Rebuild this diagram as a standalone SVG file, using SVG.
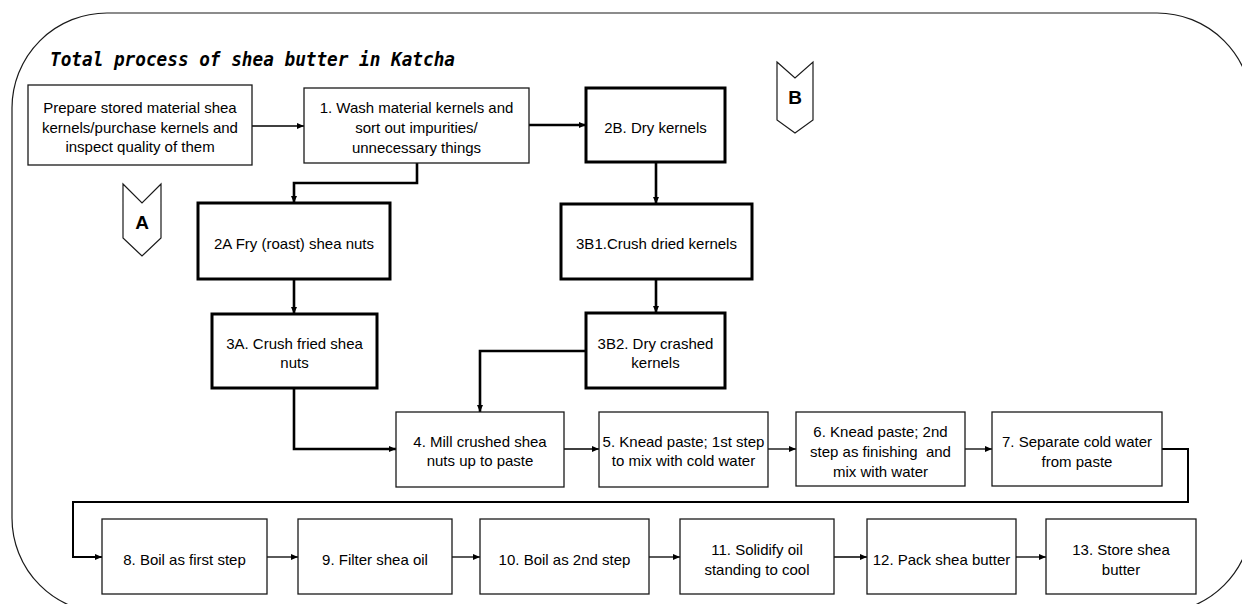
<svg xmlns="http://www.w3.org/2000/svg" width="1242" height="604" viewBox="0 0 1242 604">
  <style>
    .box { fill: #ffffff; stroke: #1a1a1a; stroke-width: 1.3; }
    .bold { fill: #ffffff; stroke: #000000; stroke-width: 3; }
    .lbl { font-family: "Liberation Sans", Arial, sans-serif; font-size: 15px; fill: #000000; text-anchor: middle; }
    .thin { fill: none; stroke: #000000; stroke-width: 1.3; marker-end: url(#arrow); }
    .thick { fill: none; stroke: #000000; stroke-width: 2.6; marker-end: url(#arrow); }
    .mid { fill: none; stroke: #000000; stroke-width: 2; marker-end: url(#arrow); }
    .chev { fill: #ffffff; stroke: #1a1a1a; stroke-width: 1.2; }
    .chevtxt { font-family: "Liberation Sans", Arial, sans-serif; font-size: 19px; font-weight: bold; fill: #000000; text-anchor: middle; }
    .title { font-family: "DejaVu Sans Mono", "Liberation Mono", monospace; font-size: 19px; font-weight: bold; font-style: italic; fill: #000000; }
  </style>
  <defs>
    <marker id="arrow" markerUnits="userSpaceOnUse" markerWidth="8" markerHeight="8" refX="7" refY="4" orient="auto">
      <path d="M0,1 L7,4 L0,7 Z" fill="#000000"/>
    </marker>
  </defs>

  <rect width="1242" height="604" fill="#ffffff"/>

  <!-- outer rounded frame -->
  <rect x="12" y="13" width="1240" height="600" rx="95" ry="95" fill="none" stroke="#1a1a1a" stroke-width="1.2"/>

  <text class="title" x="50" y="66" textLength="405" lengthAdjust="spacingAndGlyphs">Total process of shea butter in Katcha</text>

  <!-- route markers -->
  <g id="marker-a">
    <polygon class="chev" points="123,184 142,203 161,184 161,238 142,256 123,238"/>
    <text class="chevtxt" x="142" y="229">A</text>
  </g>
  <g id="marker-b">
    <polygon class="chev" points="777,62 795,78 813,62 813,120 795,133 777,120"/>
    <text class="chevtxt" x="795" y="104">B</text>
  </g>

  <!-- connectors -->
  <g id="connectors">
    <path class="thin" d="M252,126 H304"/>
    <path class="thick" d="M529,125 H586"/>
    <path class="thick" d="M417,163 V183 H294 V203"/>
    <path class="thick" d="M656,162 V204"/>
    <path class="thick" d="M294,279 V314"/>
    <path class="thick" d="M656,279 V313"/>
    <path class="thick" d="M294,388 V449 H396"/>
    <path class="thick" d="M586,351 H480 V412"/>
    <path class="thin" d="M564,449 H599"/>
    <path class="thin" d="M768,449 H796"/>
    <path class="thin" d="M965,449 H992"/>
    <path class="mid" d="M1162,449 H1188 V502 H73 V557 H102"/>
    <path class="thin" d="M267,557 H298"/>
    <path class="thin" d="M452,557 H480"/>
    <path class="thin" d="M649,557 H680"/>
    <path class="thin" d="M834,557 H867"/>
    <path class="thin" d="M1016,557 H1046"/>
  </g>

  <!-- process steps -->
  <g id="prepare">
    <rect class="box" x="28" y="85" width="224" height="80"/>
    <text class="lbl" x="140" y="113">Prepare stored material shea</text>
    <text class="lbl" x="140" y="133">kernels/purchase kernels and</text>
    <text class="lbl" x="140" y="152">inspect quality of them</text>
  </g>
  <g id="step-1">
    <rect class="box" x="304" y="88" width="225" height="75"/>
    <text class="lbl" x="416.5" y="113">1. Wash material kernels and</text>
    <text class="lbl" x="416.5" y="133">sort out impurities/</text>
    <text class="lbl" x="416.5" y="153">unnecessary things</text>
  </g>
  <g id="step-2b">
    <rect class="bold" x="586" y="88" width="139" height="74"/>
    <text class="lbl" x="655.5" y="133">2B. Dry kernels</text>
  </g>
  <g id="step-3b1">
    <rect class="bold" x="561" y="204" width="191" height="75"/>
    <text class="lbl" x="656.5" y="249">3B1.Crush dried kernels</text>
  </g>
  <g id="step-2a">
    <rect class="bold" x="198" y="203" width="192" height="76"/>
    <text class="lbl" x="294" y="249">2A Fry (roast) shea nuts</text>
  </g>
  <g id="step-3a">
    <rect class="bold" x="212" y="314" width="165" height="74"/>
    <text class="lbl" x="294.5" y="349">3A. Crush fried shea</text>
    <text class="lbl" x="294.5" y="368">nuts</text>
  </g>
  <g id="step-3b2">
    <rect class="bold" x="586" y="313" width="139" height="75"/>
    <text class="lbl" x="655.5" y="349">3B2. Dry crashed</text>
    <text class="lbl" x="655.5" y="368">kernels</text>
  </g>
  <g id="step-4">
    <rect class="box" x="396" y="412" width="168" height="75"/>
    <text class="lbl" x="480" y="447">4. Mill crushed shea</text>
    <text class="lbl" x="480" y="466">nuts up to paste</text>
  </g>
  <g id="step-5">
    <rect class="box" x="599" y="412" width="169" height="75"/>
    <text class="lbl" x="683.5" y="447">5. Knead paste; 1st step</text>
    <text class="lbl" x="683.5" y="466">to mix with cold water</text>
  </g>
  <g id="step-6">
    <rect class="box" x="796" y="412" width="169" height="74"/>
    <text class="lbl" x="880.5" y="437">6. Knead paste; 2nd</text>
    <text class="lbl" x="880.5" y="457" xml:space="preserve">step as finishing  and</text>
    <text class="lbl" x="880.5" y="477">mix with water</text>
  </g>
  <g id="step-7">
    <rect class="box" x="992" y="412" width="170" height="74"/>
    <text class="lbl" x="1077" y="447">7. Separate cold water</text>
    <text class="lbl" x="1077" y="467">from paste</text>
  </g>
  <g id="step-8">
    <rect class="box" x="102" y="519" width="165" height="75"/>
    <text class="lbl" x="184.5" y="565">8. Boil as first step</text>
  </g>
  <g id="step-9">
    <rect class="box" x="298" y="519" width="154" height="75"/>
    <text class="lbl" x="375" y="565">9. Filter shea oil</text>
  </g>
  <g id="step-10">
    <rect class="box" x="480" y="519" width="169" height="75"/>
    <text class="lbl" x="564.5" y="565">10. Boil as 2nd step</text>
  </g>
  <g id="step-11">
    <rect class="box" x="680" y="519" width="154" height="75"/>
    <text class="lbl" x="757" y="555">11. Solidify oil</text>
    <text class="lbl" x="757" y="575">standing to cool</text>
  </g>
  <g id="step-12">
    <rect class="box" x="867" y="519" width="149" height="75"/>
    <text class="lbl" x="941.5" y="565">12. Pack shea butter</text>
  </g>
  <g id="step-13">
    <rect class="box" x="1046" y="519" width="150" height="75"/>
    <text class="lbl" x="1121" y="555">13. Store shea</text>
    <text class="lbl" x="1121" y="575">butter</text>
  </g>
</svg>
